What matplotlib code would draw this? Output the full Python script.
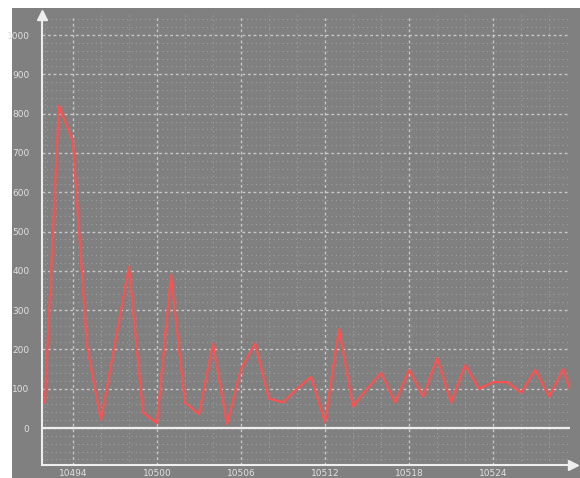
# Grafica de una señal con fondo gris (estilo osciloscopio)
import numpy as np
import matplotlib
matplotlib.use("Agg")
import matplotlib.pyplot as plt
from matplotlib.patches import Rectangle

# Datos
frames = list(range(10492, 10531))
values = [65, 820, 730, 210, 20, 215, 410, 40, 12, 390,
          65, 35, 215, 10, 150, 215, 75, 65, 100, 130,
          15, 252, 55, 100, 140, 65, 148, 80, 178, 65,
          160, 100, 117, 117, 90, 148, 80, 150, 45]
x_ticks = [10494, 10500, 10506, 10512, 10518, 10524]
x_labels = ["10494", "10500", "10506", "10512", "10518", "10524"]
y_ticks = [0, 100, 200, 300, 400, 500, 600, 700, 800, 900, 1000]

W, H = 580, 478
gris = "#808080"
fig = plt.figure(figsize=(W / 100, H / 100), dpi=100, facecolor="white")
# Rectangulo gris de fondo (detras de los ejes)
fondo = Rectangle((12 / W, 0), 1 - 12 / W, 1 - 8 / H, transform=fig.transFigure,
                  facecolor=gris, edgecolor="none", zorder=-10)
fig.patches.append(fondo)

ax = fig.add_axes([42 / W, 13 / H, (570 - 42) / W, (465 - 15) / H])
ax.set_facecolor(gris)
ax.set_zorder(1)

ax.plot(frames, values, color="#ff5050", lw=1.6, zorder=5)
ax.axhline(0, color="#eeeeee", lw=1.6, zorder=4)

ax.set_xlim(10491.8, 10529.5)
ax.set_ylim(-94, 1051)
ax.set_xticks(x_ticks)
ax.set_xticklabels(x_labels)
ax.set_yticks(y_ticks)
ax.set_xticks(np.arange(10492, 10530, 2), minor=True)
ax.set_yticks(np.arange(-80, 1051, 20), minor=True)

# Rejilla punteada
ax.grid(True, which="major", color="#e0e0e0", ls=(0, (2, 2)), lw=1.0, alpha=0.75)
ax.grid(True, which="minor", color="#a8a8a8", ls=(0, (1, 3)), lw=0.8, alpha=0.8)

ax.tick_params(which="both", length=0, colors="#e0e0e0", labelsize=6.5)
ax.tick_params(axis="x", pad=3)
ax.tick_params(axis="y", pad=9)

for s in ["top", "right"]:
    ax.spines[s].set_visible(False)
for s in ["left", "bottom"]:
    ax.spines[s].set_color("#eeeeee")
    ax.spines[s].set_linewidth(1.5)

# Flechas de los ejes
ax.plot(0, 1.0, marker="^", color="#eeeeee", ms=7, transform=ax.transAxes, clip_on=False)
ax.plot(1.005, 0, marker=">", color="#eeeeee", ms=7, transform=ax.transAxes, clip_on=False)

plt.savefig("out.png", dpi=100, facecolor="white")
